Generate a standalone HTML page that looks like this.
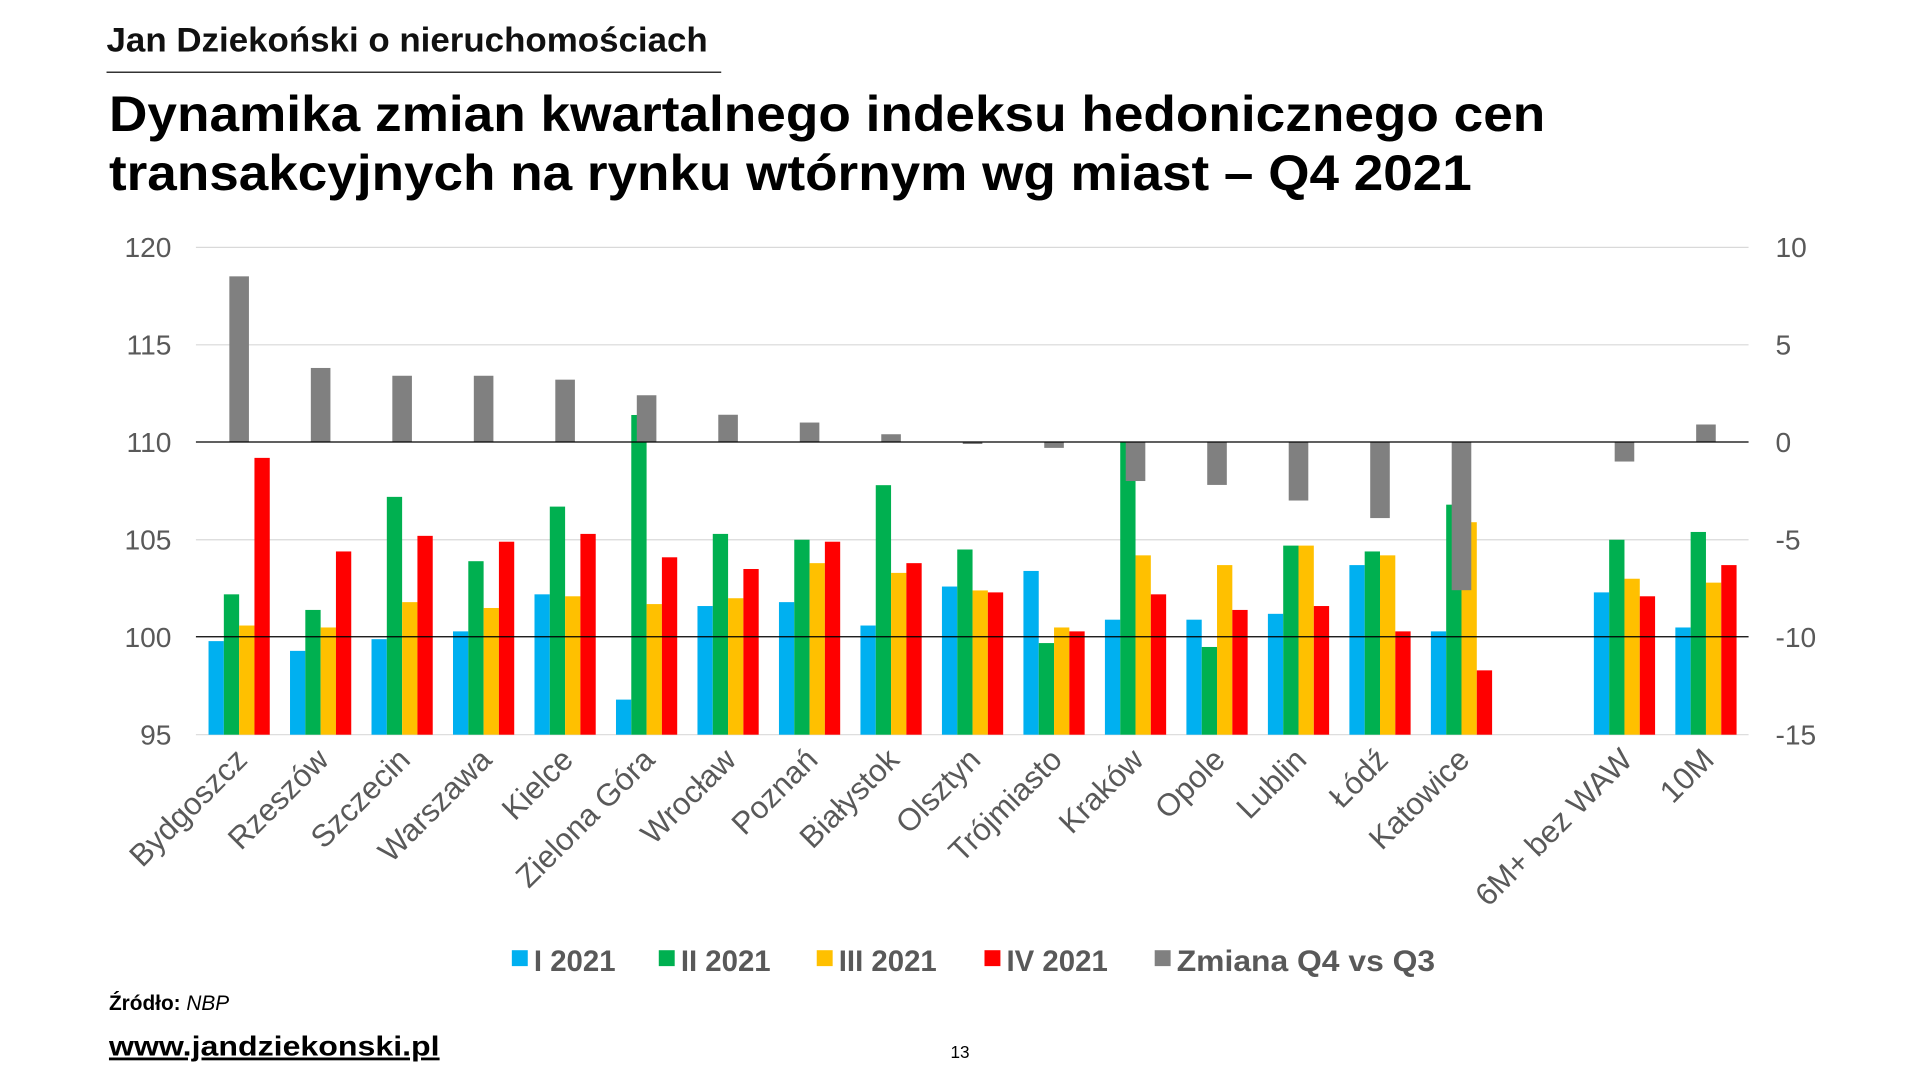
<!DOCTYPE html>
<html><head><meta charset="utf-8"><style>
html,body{margin:0;padding:0;background:#fff;width:1920px;height:1080px;overflow:hidden}
svg{display:block;font-family:"Liberation Sans",sans-serif}
</style></head><body>
<svg id="s" width="1920" height="1080" viewBox="0 0 1568 882" xmlns="http://www.w3.org/2000/svg">
<rect width="1568" height="882" fill="#fff"/>
<text x="87" y="42" font-size="28" font-weight="bold" fill="#111" textLength="491" lengthAdjust="spacingAndGlyphs">Jan Dziekoński o nieruchomościach</text>
<line x1="87" y1="59" x2="589" y2="59" stroke="#333" stroke-width="1.2"/>
<text x="89" y="107" font-size="41" font-weight="bold" fill="#000" textLength="1173" lengthAdjust="spacingAndGlyphs">Dynamika zmian kwartalnego indeksu hedonicznego cen</text>
<text x="89" y="155" font-size="41" font-weight="bold" fill="#000" textLength="1113" lengthAdjust="spacingAndGlyphs">transakcyjnych na rynku wtórnym wg miast – Q4 2021</text>
<g id="chart"></g>
<g font-size="24" font-weight="bold" fill="#595959">
<rect x="418" y="776" width="13" height="13" fill="#00B0F0"/><text x="436" y="793">I 2021</text>
<rect x="538" y="776" width="13" height="13" fill="#00B050"/><text x="556" y="793">II 2021</text>
<rect x="667" y="776" width="13" height="13" fill="#FFC000"/><text x="685" y="793">III 2021</text>
<rect x="804" y="776" width="13" height="13" fill="#FF0000"/><text x="822" y="793">IV 2021</text>
<rect x="943" y="776" width="13" height="13" fill="#808080"/><text x="961" y="793" textLength="211" lengthAdjust="spacingAndGlyphs">Zmiana Q4 vs Q3</text>
</g>
<text x="89" y="825" font-size="17" fill="#000"><tspan font-weight="bold">Źródło:</tspan> <tspan font-style="italic">NBP</tspan></text>
<text x="89" y="862" font-size="23" font-weight="bold" fill="#000" text-decoration="underline" textLength="270" lengthAdjust="spacingAndGlyphs">www.jandziekonski.pl</text>
<text x="784" y="864" font-size="14" fill="#000" text-anchor="middle">13</text>
</svg>
<script>
var d=[["Bydgoszcz",99.8,102.2,100.6,109.2,8.5],["Rzeszów",99.3,101.4,100.5,104.4,3.8],["Szczecin",99.9,107.2,101.8,105.2,3.4],["Warszawa",100.3,103.9,101.5,104.9,3.4],["Kielce",102.2,106.7,102.1,105.3,3.2],["Zielona Góra",96.8,111.4,101.7,104.1,2.4],["Wrocław",101.6,105.3,102.0,103.5,1.4],["Poznań",101.8,105.0,103.8,104.9,1.0],["Białystok",100.6,107.8,103.3,103.8,0.4],["Olsztyn",102.6,104.5,102.4,102.3,-0.1],["Trójmiasto",103.4,99.7,100.5,100.3,-0.3],["Kraków",100.9,110.0,104.2,102.2,-2.0],["Opole",100.9,99.5,103.7,101.4,-2.2],["Lublin",101.2,104.7,104.7,101.6,-3.0],["Łódź",103.7,104.4,104.2,100.3,-3.9],["Katowice",100.3,106.8,105.9,98.3,-7.6],null,["6M+ bez WAW",102.3,105.0,103.0,102.1,-1.0],["10M",100.5,105.4,102.8,103.7,0.9]];
var k=15.92,x0=162,sw=66.55,h="",cols=["#00B0F0","#00B050","#FFC000","#FF0000"];
function yl(v){return 600-(v-95)*k}
function yr(v){return 361-v*k}
[120,115,105,95].forEach(function(v){h+='<line x1="160" x2="1428" y1="'+yl(v)+'" y2="'+yl(v)+'" stroke="#d9d9d9" stroke-width="1"/>'});
for(var i=0;i<6;i++){var lv=120-5*i,rv=10-5*i,y=yl(lv)+8;
h+='<text x="140" y="'+y+'" font-size="23" fill="#595959" text-anchor="end">'+lv+'</text>';
h+='<text x="1450" y="'+y+'" font-size="23" fill="#595959">'+rv+'</text>';}
d.forEach(function(r,i){if(!r)return;var s=x0+i*sw+8.3;
for(var j=0;j<4;j++){var y=yl(r[j+1]);h+='<rect x="'+(s+j*12.5)+'" y="'+y+'" width="12.5" height="'+(600-y)+'" fill="'+cols[j]+'"/>';}});
h+='<line x1="160" x2="1428" y1="520" y2="520" stroke="#000" stroke-width="1"/>';
d.forEach(function(r,i){if(!r)return;var c=x0+i*sw+33.3,y=yr(r[5]);
h+='<rect x="'+(c-8)+'" y="'+Math.min(y,361)+'" width="16" height="'+Math.max(Math.abs(361-y),1)+'" fill="#808080"/>';
h+='<text transform="translate('+(c+8)+',622) rotate(-45)" font-size="25.5" fill="#595959" text-anchor="end">'+r[0]+'</text>';});
h+='<line x1="160" x2="1428" y1="361" y2="361" stroke="#000" stroke-width="1"/>';
document.getElementById("chart").innerHTML=h;
</script>
</body></html>
